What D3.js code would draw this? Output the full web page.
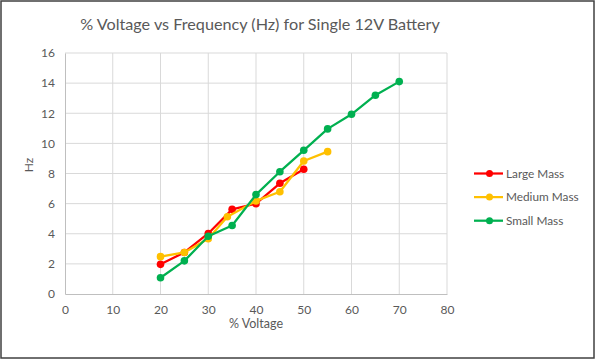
<!DOCTYPE html>
<html><head><meta charset="utf-8">
<script src="https://cdn.jsdelivr.net/npm/d3@7"></script>
<style>body{margin:0;background:#fff;}svg text{font-family:Lato,"Open Sans",sans-serif;fill:#595959;}</style>
</head><body>
<script>
const largeX = [20,25,30,35,40,45,50];
const largeY = [1.97,2.76,4.02,5.62,6.0,7.35,8.28];
const mediumX = [20,25,30,34,40,45,50,55];
const mediumY = [2.48,2.76,3.67,5.13,6.18,6.79,8.83,9.45];
const smallX = [20,25,30,35,40,45,50,55,60,65,70];
const smallY = [1.08,2.2,3.83,4.55,6.6,8.12,9.54,10.96,11.93,13.2,14.1];
const xTicks = [0,10,20,30,40,50,60,70,80];
const yTicks = [0,2,4,6,8,10,12,14,16];
const seriesNames = ["Large Mass","Medium Mass","Small Mass"];
const colors = ["#ff0000","#ffc000","#00b050"];

const W=595,H=359;
const svg=d3.select("body").append("svg").attr("width",W).attr("height",H);
svg.append("rect").attr("x",1).attr("y",1).attr("width",W-2).attr("height",H-2).attr("fill","#fff").attr("stroke","#404040").attr("stroke-width",1.5);

const x=d3.scaleLinear().domain([0,80]).range([65,447]);
const y=d3.scaleLinear().domain([0,16]).range([294,53]);

svg.append("text").attr("x",260).attr("y",30).attr("text-anchor","middle").attr("font-size",16.2).text("% Voltage vs Frequency (Hz) for Single 12V Battery");

const g=svg.append("g");
g.selectAll(".hg").data(yTicks.slice(1)).join("line").attr("x1",x(0)).attr("x2",x(80)).attr("y1",d=>y(d)).attr("y2",d=>y(d)).attr("stroke","#d9d9d9").attr("stroke-width",1);
g.selectAll(".vg").data(xTicks.slice(1)).join("line").attr("y1",y(0)).attr("y2",y(16)).attr("x1",d=>x(d)).attr("x2",d=>x(d)).attr("stroke","#d9d9d9").attr("stroke-width",1);
const xa=svg.append("g").attr("transform",`translate(0,${y(0)})`).call(d3.axisBottom(x).tickValues(xTicks).tickSize(0).tickPadding(11));
xa.select(".domain").attr("stroke","#bfbfbf");
xa.selectAll("text").attr("font-size",12).style("fill","#595959");
const ya=svg.append("g").attr("transform",`translate(${x(0)},0)`).call(d3.axisLeft(y).tickValues(yTicks).tickSize(0).tickPadding(10));
ya.select(".domain").attr("stroke","#bfbfbf");
ya.selectAll("text").attr("font-size",12).style("fill","#595959");

svg.append("text").attr("x",256).attr("y",328).attr("text-anchor","middle").attr("font-size",12.5).text("% Voltage");
svg.append("text").attr("transform","translate(33,165) rotate(-90)").attr("text-anchor","middle").attr("font-size",12).text("Hz");

const series=[[largeX,largeY],[mediumX,mediumY],[smallX,smallY]].map(([xs,ys])=>xs.map((v,i)=>[v,ys[i]]));
const line=d3.line().x(d=>x(d[0])).y(d=>y(d[1]));
series.forEach((s,i)=>{
  svg.append("path").datum(s).attr("d",line).attr("fill","none").attr("stroke",colors[i]).attr("stroke-width",2.25).attr("stroke-linejoin","round");
  svg.append("g").selectAll("circle").data(s).join("circle").attr("cx",d=>x(d[0])).attr("cy",d=>y(d[1])).attr("r",3.8).attr("fill",colors[i]);
});

const leg=svg.append("g");
seriesNames.forEach((n,i)=>{
  const yy=173.5+i*23.6;
  leg.append("line").attr("x1",474).attr("x2",503).attr("y1",yy).attr("y2",yy).attr("stroke",colors[i]).attr("stroke-width",2.25);
  leg.append("circle").attr("cx",489.5).attr("cy",yy).attr("r",3.5).attr("fill",colors[i]);
  leg.append("text").attr("x",506).attr("y",yy+4).attr("font-size",11.8).text(n);
});
</script>
</body></html>
